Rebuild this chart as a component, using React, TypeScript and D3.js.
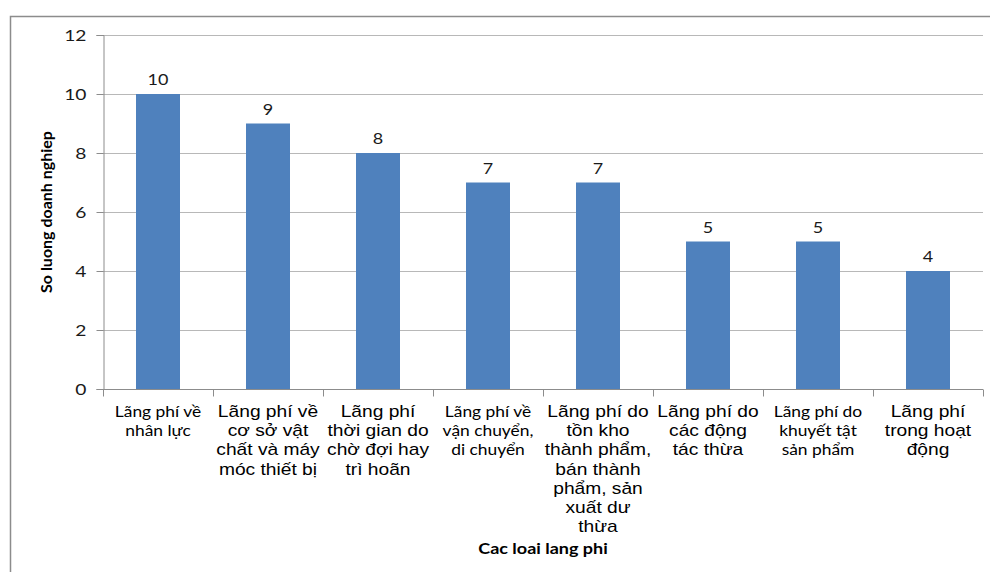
import { useEffect, useRef } from 'react';
import * as d3 from 'd3';

const categories: string[][] = [
  ['Lãng phí về', 'nhân lực'],
  ['Lãng phí về', 'cơ sở vật', 'chất và máy', 'móc thiết bị'],
  ['Lãng phí', 'thời gian do', 'chờ đợi hay', 'trì hoãn'],
  ['Lãng phí về', 'vận chuyển,', 'di chuyển'],
  ['Lãng phí do', 'tồn kho', 'thành phẩm,', 'bán thành', 'phẩm, sản', 'xuất dư', 'thừa'],
  ['Lãng phí do', 'các động', 'tác thừa'],
  ['Lãng phí do', 'khuyết tật', 'sản phẩm'],
  ['Lãng phí', 'trong hoạt', 'động'],
];
// labels drawn in the Arial-like face in the original, the rest look like Calibri
const arialLabels = [false, true, true, false, true, true, false, true];
const values = [10, 9, 8, 7, 7, 5, 5, 4];
const yTicks = [0, 2, 4, 6, 8, 10, 12];

const W = 990;
const H = 572;
const calibri = 'Lato, "Open Sans", sans-serif';
const arial = '"Liberation Sans", Arial, sans-serif';
// the original picture is a bit stretched sideways, text too
const SX = 1.2;

const App = () => {
  const ref = useRef<SVGSVGElement>(null);

  useEffect(() => {
    const svg = d3.select(ref.current);
    svg.selectAll('*').remove();

    const left = 103;
    const right = 983;
    const top = 35;
    const bottom = 389;

    const x = d3.scaleBand<number>()
      .domain(values.map((_, i) => i))
      .range([left, right])
      .paddingInner(0.6)
      .paddingOuter(0.3);
    const band = d3.scaleBand<number>()
      .domain(values.map((_, i) => i))
      .range([left, right]);
    const y = d3.scaleLinear().domain([0, 12]).range([bottom, top]);

    svg.append('rect')
      .attr('x', 10.5).attr('y', 16.5)
      .attr('width', 1000).attr('height', 600)
      .attr('fill', 'white')
      .attr('stroke', '#8c8c8c')
      .attr('stroke-width', 1.5);

    // gridlines
    svg.append('g')
      .selectAll('line')
      .data(yTicks.filter(t => t > 0))
      .enter()
      .append('line')
      .attr('x1', left).attr('x2', right)
      .attr('y1', d => Math.round(y(d)) + 0.5)
      .attr('y2', d => Math.round(y(d)) + 0.5)
      .attr('stroke', '#b8b8b8');

    // bars
    svg.append('g')
      .selectAll('rect')
      .data(values)
      .enter()
      .append('rect')
      .attr('x', (_, i) => x(i)!)
      .attr('y', d => y(d))
      .attr('width', x.bandwidth())
      .attr('height', d => bottom - y(d))
      .attr('fill', '#4f81bd');

    // value labels
    svg.append('g')
      .selectAll('text')
      .data(values)
      .enter()
      .append('text')
      .attr('transform', (d, i) => `translate(${x(i)! + x.bandwidth() / 2},${y(d) - 9}) scale(${SX},1)`)
      .attr('text-anchor', 'middle')
      .attr('font-family', calibri)
      .attr('font-size', 15)
      .attr('fill', '#1a1a1a')
      .text(d => d);

    // y axis
    const yAxis = svg.append('g')
      .attr('transform', `translate(${left + 0.5},0)`)
      .call(d3.axisLeft(y).tickValues(yTicks).tickSize(7).tickPadding(0));
    yAxis.select('.domain').attr('stroke', '#8c8c8c');
    yAxis.selectAll('.tick line').attr('stroke', '#8c8c8c');
    yAxis.selectAll('.tick text')
      .attr('x', null)
      .attr('transform', `translate(-17,0) scale(${SX},1)`)
      .attr('font-family', calibri)
      .attr('font-size', 16)
      .attr('fill', '#1a1a1a');

    // x axis
    const xAxis = svg.append('g')
      .attr('transform', `translate(0,${bottom + 0.5})`);
    xAxis.append('line')
      .attr('x1', left).attr('x2', right)
      .attr('stroke', '#8c8c8c');
    xAxis.selectAll('line.tk')
      .data(d3.range(values.length + 1))
      .enter()
      .append('line')
      .attr('class', 'tk')
      .attr('x1', i => Math.round(left + i * band.bandwidth()) + 0.5)
      .attr('x2', i => Math.round(left + i * band.bandwidth()) + 0.5)
      .attr('y1', 0).attr('y2', 7)
      .attr('stroke', '#8c8c8c');

    const labels = svg.append('g');
    categories.forEach((lines, i) => {
      const cx = band(i)! + band.bandwidth() / 2;
      const t = labels.append('text')
        .attr('transform', `translate(${cx},0) scale(${SX},1)`)
        .attr('text-anchor', 'middle')
        .attr('font-family', arialLabels[i] ? arial : calibri)
        .attr('font-size', arialLabels[i] ? 16 : 14.5)
        .attr('fill', '#000');
      lines.forEach((ln, j) => {
        t.append('tspan')
          .attr('x', 0)
          .attr('y', 417 + j * 19.2)
          .text(ln);
      });
    });

    svg.append('text')
      .attr('transform', 'translate(52,212) rotate(-90)')
      .attr('text-anchor', 'middle')
      .attr('font-family', calibri)
      .attr('font-weight', 'bold')
      .attr('font-size', 16)
      .text('So luong doanh nghiep');

    svg.append('text')
      .attr('transform', `translate(543,554) scale(${SX},1)`)
      .attr('text-anchor', 'middle')
      .attr('font-family', calibri)
      .attr('font-weight', 'bold')
      .attr('font-size', 15)
      .text('Cac loai lang phi');
  }, []);

  return (
    <svg ref={ref} width={W} height={H}
      style={{ position: 'absolute', left: 0, top: 0, background: 'white' }} />
  );
};

export default App;
